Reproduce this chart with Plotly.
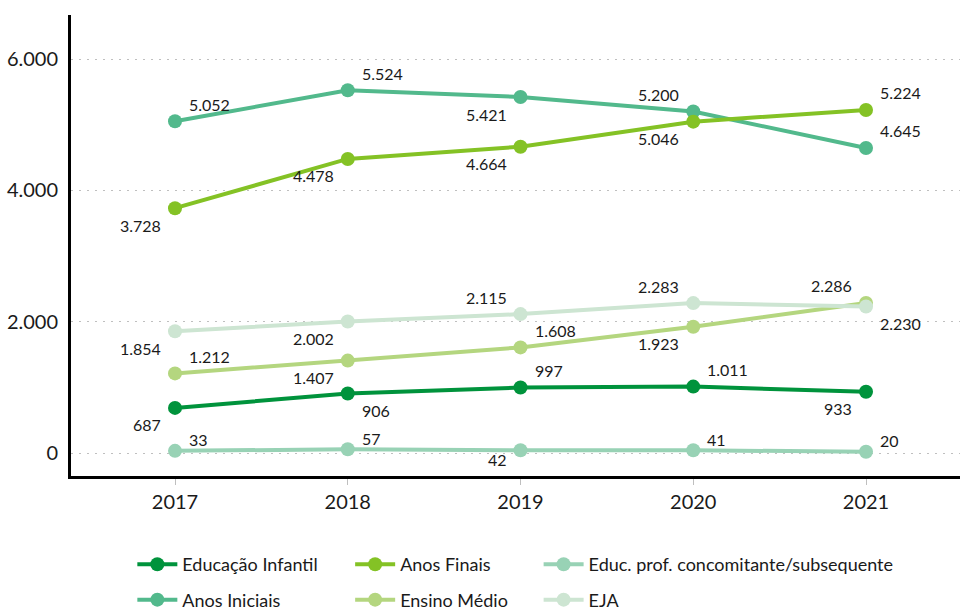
import plotly.graph_objects as go

years = [2017, 2018, 2019, 2020, 2021]

educacao_infantil = [687, 906, 997, 1011, 933]
anos_iniciais = [5052, 5524, 5421, 5200, 4645]
anos_finais = [3728, 4478, 4664, 5046, 5224]
ensino_medio = [1212, 1407, 1608, 1923, 2286]
educ_prof = [33, 57, 42, 41, 20]
eja = [1854, 2002, 2115, 2283, 2230]

y_ticks = [0, 2000, 4000, 6000]

# name, values, colour, legend column, label placement per point
series = [
    ("Educação Infantil", educacao_infantil, "#00933C", "legend",
     ["ll", "lr", "ur", "ur", "ll"]),
    ("Anos Iniciais", anos_iniciais, "#52B98C", "legend",
     ["ur", "ur", "ll", "ul", "ur"]),
    ("Anos Finais", anos_finais, "#84C225", "legend2",
     ["ll", "ll", "ll", "ll", "ur"]),
    ("Ensino Médio", ensino_medio, "#B4D67F", "legend2",
     ["ur", "ll", "ur", "ll", "ul"]),
    ("Educ. prof. concomitante/subsequente", educ_prof, "#98D2B5", "legend3",
     ["ur", "ur", "ll", "ur", "ur"]),
    ("EJA", eja, "#CDE5D2", "legend3",
     ["ll", "ll", "ul", "ul", "lr"]),
]

FONT = "Lato, 'Noto Sans', sans-serif"


def fmt(v):
    return f"{v:,}".replace(",", ".")


fig = go.Figure()
annotations = []

for i, (name, values, color, legend, places) in enumerate(series):
    fig.add_trace(
        go.Scatter(
            x=years,
            y=values,
            mode="lines+markers",
            name=name,
            line={"color": color, "width": 4},
            marker={"color": color, "size": 14},
            legend=legend,
            legendgroup=f"g{i}",
            hoverinfo="skip",
        )
    )
    small = max(values) < 100
    for x, v, p in zip(years, values, places):
        dy = 11 if small and p[0] == "u" else (9 if small else 17)
        annotations.append(
            {
                "x": x,
                "y": v,
                "xref": "x",
                "yref": "y",
                "text": fmt(v),
                "showarrow": False,
                "xanchor": "left" if p[1] == "r" else "right",
                "yanchor": "middle",
                "xshift": 12 if p[1] == "r" else -12,
                "yshift": dy if p[0] == "u" else -dy,
                "font": {"size": 16, "color": "#1a1a1a", "family": FONT},
            }
        )

legend_style = {
    "orientation": "v",
    "yanchor": "top",
    "y": -0.152,
    "xanchor": "left",
    "traceorder": "grouped",
    "tracegroupgap": 9,
    "font": {"size": 18, "color": "#1a1a1a", "family": FONT},
    "bgcolor": "rgba(0,0,0,0)",
    "itemwidth": 40,
}

fig.update_layout(
    width=960,
    height=615,
    margin={"l": 71, "r": 0, "t": 15, "b": 139, "autoexpand": False},
    plot_bgcolor="white",
    paper_bgcolor="white",
    separators=",.",
    font={"family": FONT, "color": "#1a1a1a"},
    showlegend=True,
    annotations=annotations,
    legend={**legend_style, "x": 0.069},
    legend2={**legend_style, "x": 0.314},
    legend3={**legend_style, "x": 0.526},
    xaxis={
        "range": [2016.398, 2021.544],
        "tickvals": years,
        "tickfont": {"size": 20},
        "showline": True,
        "linecolor": "black",
        "linewidth": 3,
        "ticks": "outside",
        "ticklen": 6,
        "tickcolor": "#BFBFBF",
        "tickwidth": 1,
        "showgrid": False,
        "zeroline": False,
    },
    yaxis={
        "range": [-350, 6670],
        "tickvals": y_ticks,
        "tickformat": ",d",
        "tickfont": {"size": 20},
        "showline": True,
        "linecolor": "black",
        "linewidth": 3,
        "ticks": "",
        "ticklabelstandoff": 6,
        "showgrid": True,
        "gridcolor": "#BFBFBF",
        "gridwidth": 1,
        "griddash": "2px,6px",
        "zeroline": False,
    },
)

fig.write_html(
    "out.html",
    config={"displayModeBar": False},
    post_script="document.body.style.margin='0';document.body.style.overflow='hidden';",
)
